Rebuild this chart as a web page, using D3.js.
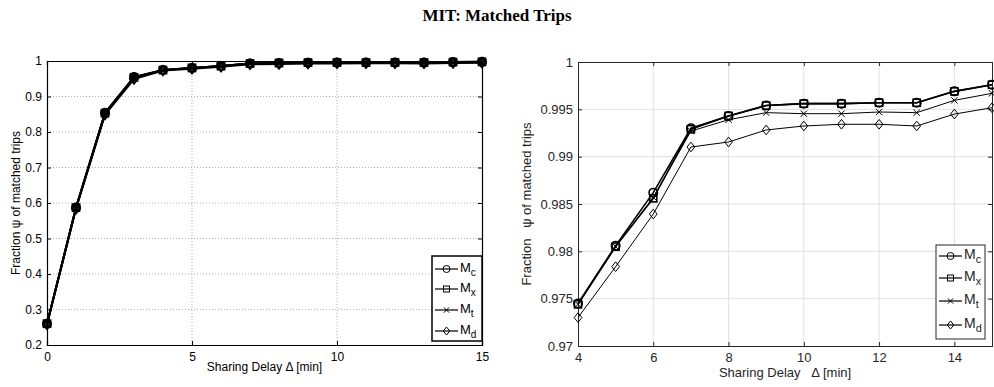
<!DOCTYPE html>
<html>
<head>
<meta charset="utf-8">
<script src="https://cdn.jsdelivr.net/npm/d3@7"></script>
<style>
body { margin: 0; background: #fff; }
svg text { font-family: "Liberation Sans", Arial, sans-serif; }
</style>
</head>
<body>
<div id="chart"></div>
<script>
const delays = [0, 1, 2, 3, 4, 5, 6, 7, 8, 9, 10, 11, 12, 13, 14, 15];
const seriesNames = ['c', 'x', 't', 'd'];
const fracMc = [0.26, 0.587, 0.854, 0.955, 0.9745, 0.9806, 0.9862, 0.9930, 0.9943, 0.9954, 0.9956, 0.9956, 0.9957, 0.9957, 0.9969, 0.9976];
const fracMx = [0.26, 0.587, 0.853, 0.954, 0.9744, 0.9805, 0.9856, 0.9929, 0.9943, 0.9954, 0.9956, 0.9956, 0.9957, 0.9957, 0.9969, 0.9976];
const fracMt = [0.259, 0.586, 0.852, 0.952, 0.9744, 0.9805, 0.9857, 0.9927, 0.9939, 0.99465, 0.99454, 0.99454, 0.99472, 0.99465, 0.99595, 0.99669];
const fracMd = [0.258, 0.584, 0.849, 0.949, 0.9730, 0.97838, 0.98394, 0.99102, 0.99155, 0.99282, 0.99324, 0.99342, 0.99342, 0.99324, 0.9945, 0.99517];
const leftYTicks = [0.2, 0.3, 0.4, 0.5, 0.6, 0.7, 0.8, 0.9, 1];
const leftXTicks = [0, 5, 10, 15];
const rightYTicks = [0.97, 0.975, 0.98, 0.985, 0.99, 0.995, 1];
const rightXTicks = [4, 6, 8, 10, 12, 14];

const allSeries = [fracMc, fracMx, fracMt, fracMd].map(function (vals, i) {
    return {
        name: seriesNames[i],
        points: delays.map(function (d, j) { return {x: d, y: vals[j]}; })
    };
});

const svg = d3.select('#chart').append('svg')
    .attr('width', 994).attr('height', 387);

svg.append('text')
    .attr('x', 497).attr('y', 21)
    .attr('text-anchor', 'middle')
    .style('font-family', '"Liberation Serif", "Times New Roman", serif')
    .style('font-weight', 'bold')
    .style('font-size', '17px')
    .text('MIT: Matched Trips');

function marker(g, type, size, sw) {
    if (type === 'c') {
        g.append('circle').attr('r', size).attr('fill', 'none').attr('stroke', 'black').attr('stroke-width', sw);
    } else if (type === 'x') {
        g.append('rect').attr('x', -size * 0.85).attr('y', -size * 0.85)
            .attr('width', size * 1.7).attr('height', size * 1.7)
            .attr('fill', 'none').attr('stroke', 'black').attr('stroke-width', sw);
    } else if (type === 't') {
        const s = size * 0.75;
        g.append('path').attr('d', 'M' + (-s) + ',' + (-s) + 'L' + s + ',' + s + 'M' + (-s) + ',' + s + 'L' + s + ',' + (-s))
            .attr('stroke', 'black').attr('stroke-width', sw);
    } else {
        const s = size * 1.15;
        g.append('path').attr('d', 'M0,' + (-s) + 'L' + (s * 0.8) + ',0L0,' + s + 'L' + (-s * 0.8) + ',0Z')
            .attr('fill', 'none').attr('stroke', 'black').attr('stroke-width', sw);
    }
}

function drawPanel(opt) {
    const x = d3.scaleLinear().domain(opt.xDomain).range([opt.x0, opt.x1]);
    const y = d3.scaleLinear().domain(opt.yDomain).range([opt.y1, opt.y0]);
    const g = svg.append('g');

    // grid
    g.selectAll('line.gx').data(opt.xTicks.filter(function (t) { return t > opt.xDomain[0] && t < opt.xDomain[1]; }))
        .enter().append('line')
        .attr('x1', function (d) { return x(d); }).attr('x2', function (d) { return x(d); })
        .attr('y1', opt.y0).attr('y2', opt.y1)
        .attr('stroke', opt.gridColor).attr('stroke-width', opt.gridWidth)
        .attr('stroke-dasharray', opt.gridDash);
    g.selectAll('line.gy').data(opt.yTicks.filter(function (t) { return t > opt.yDomain[0] && t < opt.yDomain[1]; }))
        .enter().append('line')
        .attr('y1', function (d) { return y(d); }).attr('y2', function (d) { return y(d); })
        .attr('x1', opt.x0).attr('x2', opt.x1)
        .attr('stroke', opt.gridColor).attr('stroke-width', opt.gridWidth)
        .attr('stroke-dasharray', opt.gridDash);

    // axes
    const axB = d3.axisBottom(x).tickValues(opt.xTicks).tickSize(-4).tickPadding(7).tickFormat(d3.format('d'));
    const axT = d3.axisTop(x).tickValues(opt.xTicks).tickSize(-4).tickFormat('');
    const axL = d3.axisLeft(y).tickValues(opt.yTicks).tickSize(-4).tickPadding(5).tickFormat(function (d) { return String(+d.toFixed(3)); });
    const axR = d3.axisRight(y).tickValues(opt.yTicks).tickSize(-4).tickFormat('');
    [[axB, 'translate(0,' + opt.y1 + ')'], [axT, 'translate(0,' + opt.y0 + ')'],
     [axL, 'translate(' + opt.x0 + ',0)'], [axR, 'translate(' + opt.x1 + ',0)']].forEach(function (a) {
        const ag = g.append('g').attr('transform', a[1]).call(a[0]);
        ag.select('.domain').attr('stroke', opt.axisColor).attr('stroke-width', opt.axisWidth);
        ag.selectAll('.tick line').attr('stroke', opt.axisColor);
        ag.selectAll('text').attr('fill', opt.axisColor).style('font-size', opt.fontSize + 'px');
    });

    // lines
    const line = d3.line().x(function (d) { return x(d.x); }).y(function (d) { return y(d.y); });
    allSeries.forEach(function (s, i) {
        const pts = s.points.filter(function (p) { return p.x >= opt.xDomain[0] && p.x <= opt.xDomain[1]; });
        g.append('path').datum(pts).attr('d', line)
            .attr('fill', 'none').attr('stroke', 'black').attr('stroke-width', opt.lineWidths[i]);
        g.selectAll(null).data(pts).enter().append('g')
            .attr('transform', function (d) { return 'translate(' + x(d.x) + ',' + y(d.y) + ')'; })
            .each(function () { marker(d3.select(this), s.name, opt.markerSize, opt.lineWidths[i]); });
    });

    // axis titles
    g.append('text')
        .attr('transform', 'translate(' + opt.yLabelX + ',' + ((opt.y0 + opt.y1) / 2) + ') rotate(-90)')
        .attr('text-anchor', 'middle')
        .attr('fill', opt.axisColor)
        .style('font-size', opt.fontSize + 'px')
        .style('white-space', 'pre')
        .text(opt.yLabel);
    g.append('text')
        .attr('x', (opt.x0 + opt.x1) / 2).attr('y', opt.xLabelY)
        .attr('text-anchor', 'middle')
        .attr('fill', opt.axisColor)
        .style('font-size', opt.fontSize + 'px')
        .style('white-space', 'pre')
        .text(opt.xLabel);

    // legend
    const lg = g.append('g');
    lg.append('rect')
        .attr('x', opt.legend[0]).attr('y', opt.legend[1])
        .attr('width', opt.legend[2] - opt.legend[0]).attr('height', opt.legend[3] - opt.legend[1])
        .attr('fill', 'white').attr('stroke', opt.legendStroke).attr('stroke-width', opt.legendWidth);
    seriesNames.forEach(function (n, i) {
        const ey = opt.legendRows[i];
        const lx = opt.legend[0] + 3;
        lg.append('line').attr('x1', lx).attr('x2', lx + 23).attr('y1', ey).attr('y2', ey)
            .attr('stroke', 'black').attr('stroke-width', 1.2);
        marker(lg.append('g').attr('transform', 'translate(' + (lx + 11.5) + ',' + ey + ')'), n, 3.5, 1);
        const t = lg.append('text').attr('x', lx + 25).attr('y', ey + 3)
            .attr('fill', opt.axisColor).style('font-size', (opt.fontSize + 1) + 'px');
        t.append('tspan').text('M');
        t.append('tspan').attr('dy', 4).style('font-size', (opt.fontSize - 2) + 'px').text(n);
    });
}

drawPanel({
    xDomain: [0, 15], yDomain: [0.2, 1],
    x0: 47, x1: 482, y0: 61, y1: 345,
    xTicks: leftXTicks, yTicks: leftYTicks,
    gridColor: '#999', gridWidth: 0.8, gridDash: '1,2',
    axisColor: '#000', axisWidth: 1.2, fontSize: 12,
    lineWidths: [2, 2, 2, 2], markerSize: 4,
    yLabel: 'Fraction ψ of matched trips', yLabelX: 20,
    xLabel: 'Sharing Delay Δ [min]', xLabelY: 371,
    legend: [432, 256, 482, 341], legendRows: [269, 289, 310, 331],
    legendStroke: '#000', legendWidth: 1.5
});

drawPanel({
    xDomain: [4, 15], yDomain: [0.97, 1],
    x0: 578, x1: 992, y0: 62, y1: 346,
    xTicks: rightXTicks, yTicks: rightYTicks,
    gridColor: '#e0e0e0', gridWidth: 1, gridDash: null,
    axisColor: '#262626', axisWidth: 1, fontSize: 13,
    lineWidths: [1.6, 1.6, 1, 1], markerSize: 4.2,
    yLabel: 'Fraction   ψ of matched trips', yLabelX: 531,
    xLabel: 'Sharing Delay   Δ [min]', xLabelY: 377,
    legend: [936, 245, 985, 339], legendRows: [256, 278, 301, 325],
    legendStroke: '#262626', legendWidth: 1
});
</script>
</body>
</html>
